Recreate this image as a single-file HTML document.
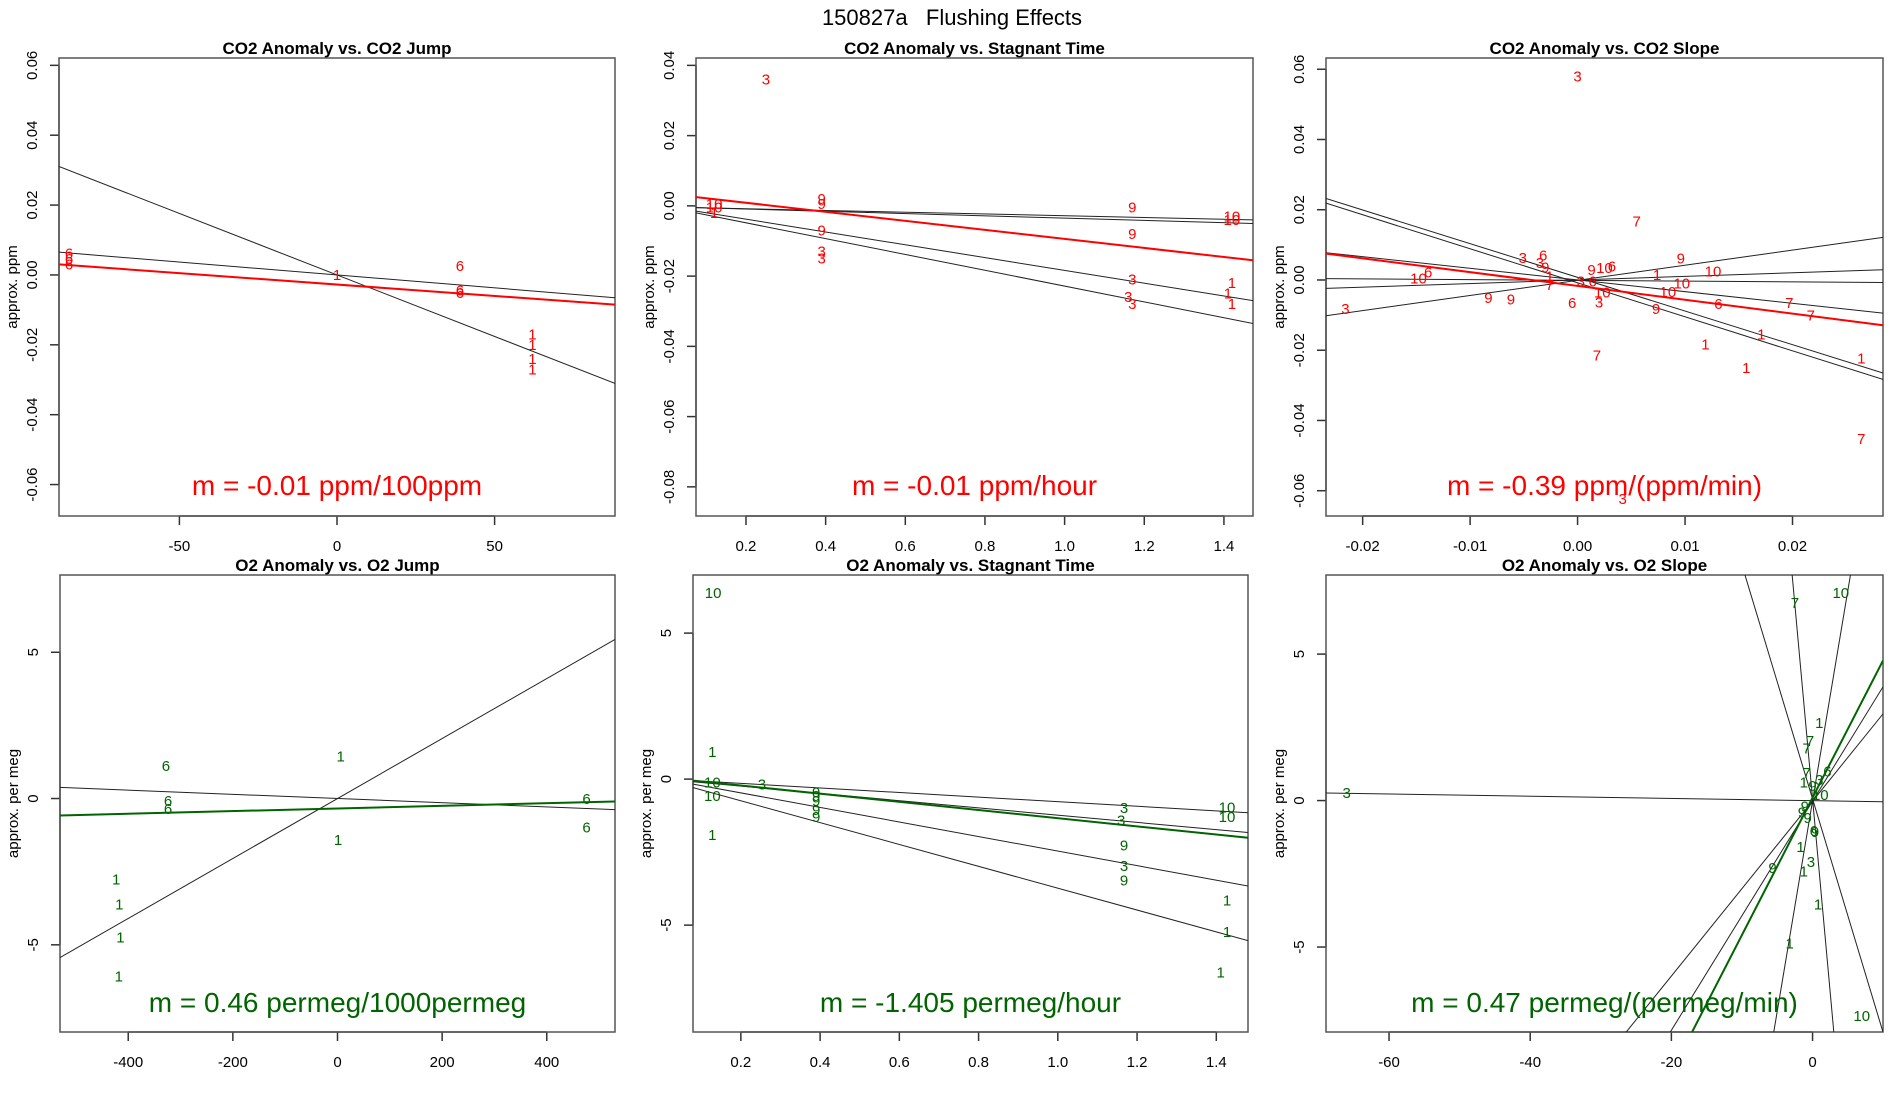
<!DOCTYPE html>
<html><head><meta charset="utf-8"><style>
html,body{margin:0;padding:0;background:#fff;overflow:hidden;width:1900px;height:1100px;}
svg{display:block;font-family:"Liberation Sans",sans-serif;}
</style></head><body>
<svg id="c" width="1900" height="1100" viewBox="0 0 1900 1100">
<text x="952" y="25" text-anchor="middle" font-size="22" style="white-space:pre" xml:space="preserve">150827a   Flushing Effects</text>
</svg>
<script>
// ---- Panel 1 data: CO2 Anomaly vs CO2 Jump ----
const p1Labels = ["6","6","6","1","6","6","6","1","1","1","1"];
const p1X = [-85,-85,-85,0,39,39,39,62,62,62,62];
const p1Y = [0.0062,0.0045,0.0030,0.0,0.0025,-0.0045,-0.0052,-0.017,-0.020,-0.024,-0.027];
const p1Int = [0,0,-0.00275];
const p1Slope = [-0.000352,-0.0000739,-0.0000653];
// ---- Panel 2 data: CO2 Anomaly vs Stagnant Time ----
const p2Labels = ["3","10","10","1","9","9","9","3","3","9","9","3","3","3","10","10","1","1","1"];
const p2X = [0.25,0.12,0.12,0.12,0.39,0.39,0.39,0.39,0.39,1.17,1.17,1.17,1.16,1.17,1.42,1.42,1.42,1.41,1.42];
const p2Y = [0.036,0.0005,-0.0005,-0.002,0.002,0.0005,-0.007,-0.013,-0.015,-0.0005,-0.008,-0.021,-0.026,-0.028,-0.003,-0.004,-0.022,-0.025,-0.028];
const p2Int = [-0.00031,-0.00026,-0.000142,-0.000322,0.00346];
const p2Slope = [-0.0025,-0.00322,-0.01823,-0.02252,-0.01287];
// ---- Panel 3 data: CO2 Anomaly vs CO2 Slope ----
const p3Labels = ["3","7","3","6","3","9","1","7","10","6","3","9","9","6","3","6","9","10","6","10","3","7","9","1","10","10","10","9","6","7","7","1","1","1","1","7","3"];
const p3X = [0,0.0055,-0.0051,-0.0032,-0.0035,-0.003,-0.0026,-0.0026,-0.0148,-0.0139,-0.0216,-0.0083,-0.0062,-0.0005,0.0003,0.0014,0.0013,0.0025,0.0032,0.0023,0.002,0.0018,0.0096,0.0074,0.0126,0.0097,0.0084,0.0073,0.0131,0.0197,0.0217,0.0171,0.0119,0.0157,0.0264,0.0264,0.0042];
const p3Y = [0.058,0.0167,0.0063,0.0069,0.0048,0.0036,0.001,-0.0014,0.0004,0.0021,-0.0082,-0.0052,-0.0056,-0.0066,-0.0004,-0.0004,0.0028,0.0034,0.0039,-0.0036,-0.0064,-0.0215,0.0061,0.0014,0.0024,-0.001,-0.0034,-0.0082,-0.0069,-0.0066,-0.0101,-0.0155,-0.0183,-0.025,-0.0223,-0.0453,-0.0624];
const p3Int = [0.00075,-0.0008,0,-0.0001,0,-0.0001,-0.0017];
const p3Slope = [-0.959,-0.9685,-0.3319,-0.0212,0.1023,0.4303,-0.3936];
// ---- Panel 4 data: O2 Anomaly vs O2 Jump ----
const p4Labels = ["6","1","6","6","6","6","1","1","1","1","1"];
const p4X = [-328,6,-324,-324,476,476,1,-423,-417,-415,-418];
const p4Y = [1.12,1.44,-0.08,-0.36,-0.02,-0.99,-1.41,-2.76,-3.63,-4.75,-6.09];
const p4Int = [0,0,-0.34];
const p4Slope = [0.01025,-0.000716,0.000452];
// ---- Panel 5 data: O2 Anomaly vs Stagnant Time ----
const p5Labels = ["10","1","10","10","1","3","9","9","9","9","9","3","3","9","3","9","10","10","1","1","1"];
const p5X = [0.13,0.128,0.128,0.128,0.128,0.253,0.39,0.39,0.39,0.39,0.39,1.167,1.16,1.167,1.167,1.167,1.427,1.427,1.427,1.427,1.411];
const p5Y = [6.37,0.93,-0.11,-0.57,-1.92,-0.19,-0.45,-0.57,-0.75,-1.05,-1.29,-0.99,-1.41,-2.28,-2.98,-3.48,-0.97,-1.29,-4.15,-5.24,-6.62];
const p5Int = [0.012,0.008,0.027,0.006,0.061];
const p5Slope = [-0.785,-1.242,-2.491,-3.741,-1.399];
// ---- Panel 6 data: O2 Anomaly vs O2 Slope ----
const p6Labels = ["3","7","10","1","7","7","7","6","1","9","3","10","9","9","9","6","9","1","3","1","9","1","1","10"];
const p6X = [-66,-2.5,4,0.95,-0.35,-0.83,-0.83,2.1,-1.24,0,0.95,1.1,-1.1,-1.5,-0.7,0.18,0.35,-1.7,-0.24,-1.24,-5.67,0.77,-3.25,6.97];
const p6Y = [0.25,6.74,7.09,2.65,2.03,1.78,0.94,1.0,0.61,0.5,0.7,0.19,-0.2,-0.4,-0.6,-1.04,-1.08,-1.58,-2.09,-2.42,-2.3,-3.54,-4.88,-7.36];
const p6Int = [-0.002,0.06,0.06,-0.01,-0.02,-0.02,0.10];
const p6Slope = [-0.0038,-0.798,-2.644,1.436,0.391,0.2985,0.4688];

const RED="#ff0000", GREEN="#006400";
const NS="http://www.w3.org/2000/svg";
const svg=document.getElementById('c');
function mk(tag,attrs,parent){const e=document.createElementNS(NS,tag);for(const k in attrs)e.setAttribute(k,attrs[k]);(parent||svg).appendChild(e);return e;}

const panels=[
 {id:"co2-jump",title:"CO2 Anomaly vs. CO2 Jump",box:[59,58,615,516],xr:[-88.2,88.2],yr:[-0.069,0.0621],xt:[-50,0,50],yt:[-0.06,-0.04,-0.02,0,0.02,0.04,0.06],yd:2,xd:0,ylab:"approx. ppm",col:RED,slope:"m = -0.01 ppm/100ppm",L:p1Labels,X:p1X,Y:p1Y,I:p1Int,S:p1Slope},
 {id:"co2-stagnant",title:"CO2 Anomaly vs. Stagnant Time",box:[696,58,1253,516],xr:[0.0745,1.473],yr:[-0.0883,0.0421],xt:[0.2,0.4,0.6,0.8,1.0,1.2,1.4],yt:[-0.08,-0.06,-0.04,-0.02,0,0.02,0.04],yd:2,xd:1,ylab:"approx. ppm",col:RED,slope:"m = -0.01 ppm/hour",L:p2Labels,X:p2X,Y:p2Y,I:p2Int,S:p2Slope},
 {id:"co2-slope",title:"CO2 Anomaly vs. CO2 Slope",box:[1326,58,1883,516],xr:[-0.02341,0.02842],yr:[-0.0672,0.0632],xt:[-0.02,-0.01,0,0.01,0.02],yt:[-0.06,-0.04,-0.02,0,0.02,0.04,0.06],yd:2,xd:2,ylab:"approx. ppm",col:RED,slope:"m = -0.39 ppm/(ppm/min)",L:p3Labels,X:p3X,Y:p3Y,I:p3Int,S:p3Slope},
 {id:"o2-jump",title:"O2 Anomaly vs. O2 Jump",box:[60,575,615,1032],xr:[-530.4,530.4],yr:[-7.98,7.64],xt:[-400,-200,0,200,400],yt:[-5,0,5],yd:0,xd:0,ylab:"approx. per meg",col:GREEN,slope:"m = 0.46 permeg/1000permeg",L:p4Labels,X:p4X,Y:p4Y,I:p4Int,S:p4Slope},
 {id:"o2-stagnant",title:"O2 Anomaly vs. Stagnant Time",box:[693,575,1248,1032],xr:[0.0792,1.48],yr:[-8.66,6.99],xt:[0.2,0.4,0.6,0.8,1.0,1.2,1.4],yt:[-5,0,5],yd:0,xd:1,ylab:"approx. per meg",col:GREEN,slope:"m = -1.405 permeg/hour",L:p5Labels,X:p5X,Y:p5Y,I:p5Int,S:p5Slope},
 {id:"o2-slope",title:"O2 Anomaly vs. O2 Slope",box:[1326,575,1883,1032],xr:[-68.93,9.98],yr:[-7.90,7.70],xt:[-60,-40,-20,0],yt:[-5,0,5],yd:0,xd:0,ylab:"approx. per meg",col:GREEN,slope:"m = 0.47 permeg/(permeg/min)",L:p6Labels,X:p6X,Y:p6Y,I:p6Int,S:p6Slope}
];

panels.forEach((p,pi)=>{
  const [x0,y0,x1,y1]=p.box;
  const sx=v=>x0+(v-p.xr[0])/(p.xr[1]-p.xr[0])*(x1-x0);
  const sy=v=>y1-(v-p.yr[0])/(p.yr[1]-p.yr[0])*(y1-y0);
  const g=mk('g',{});
  
  
  const cp=mk('clipPath',{id:'clip'+pi},g);
  mk('rect',{x:x0,y:y0,width:x1-x0,height:y1-y0},cp);
  const t=mk('text',{x:(x0+x1)/2,y:y0-4,'text-anchor':'middle','font-size':17,'font-weight':'bold'},g);
  t.textContent=p.title;
  
  
  const xa=mk('g',{},g);
  
  
  mk('line',{x1:sx(p.xt[0]),x2:sx(p.xt[p.xt.length-1]),y1:y1,y2:y1,stroke:'#333','stroke-width':1.5},xa);
  p.xt.forEach(v=>{
    mk('line',{x1:sx(v),x2:sx(v),y1:y1,y2:y1+9,stroke:'#333','stroke-width':1.5},xa);
    const tl=mk('text',{x:sx(v),y:y1+35,'text-anchor':'middle','font-size':15},xa);
    tl.textContent=v.toFixed(p.xd);
    
    
  });
  const ya=mk('g',{},g);
  
  
  mk('line',{x1:x0,x2:x0,y1:sy(p.yt[0]),y2:sy(p.yt[p.yt.length-1]),stroke:'#333','stroke-width':1.5},ya);
  p.yt.forEach(v=>{
    mk('line',{x1:x0-9,x2:x0,y1:sy(v),y2:sy(v),stroke:'#333','stroke-width':1.5},ya);
    const yy=sy(v), xx=x0-22;
    const tl=mk('text',{x:xx,y:yy,'text-anchor':'middle','font-size':15,transform:`rotate(-90 ${xx} ${yy})`},ya);
    tl.textContent=v.toFixed(p.yd);
    
    
  });
  const yl=mk('text',{x:x0-42,y:(y0+y1)/2,'text-anchor':'middle','font-size':15,transform:`rotate(-90 ${x0-42} ${(y0+y1)/2})`},g);
  yl.textContent=p.ylab;
  
  
  mk('rect',{x:x0,y:y0,width:x1-x0,height:y1-y0,fill:'none',stroke:'#555','stroke-width':1.5},g);
  const lg=mk('g',{'clip-path':`url(#clip${pi})`},g);
  p.I.forEach((a,i)=>{
    const b=p.S[i];
    const last=i===p.I.length-1;
    const ln=mk('line',{x1:sx(p.xr[0]),y1:sy(a+b*p.xr[0]),x2:sx(p.xr[1]),y2:sy(a+b*p.xr[1]),stroke:last?p.col:'#222','stroke-width':last?2:1},lg);
    
    
  });
  p.L.forEach((lab,i)=>{
    const tx=mk('text',{x:sx(p.X[i]),y:sy(p.Y[i])+5,'text-anchor':'middle','font-size':15,fill:p.col},g);
    tx.textContent=lab;
    
    
  });
  const st=mk('text',{x:(x0+x1)/2,y:y0+437,'text-anchor':'middle','font-size':28,fill:p.col},g);
  st.textContent=p.slope;
  
  
});
</script>
</body></html>
